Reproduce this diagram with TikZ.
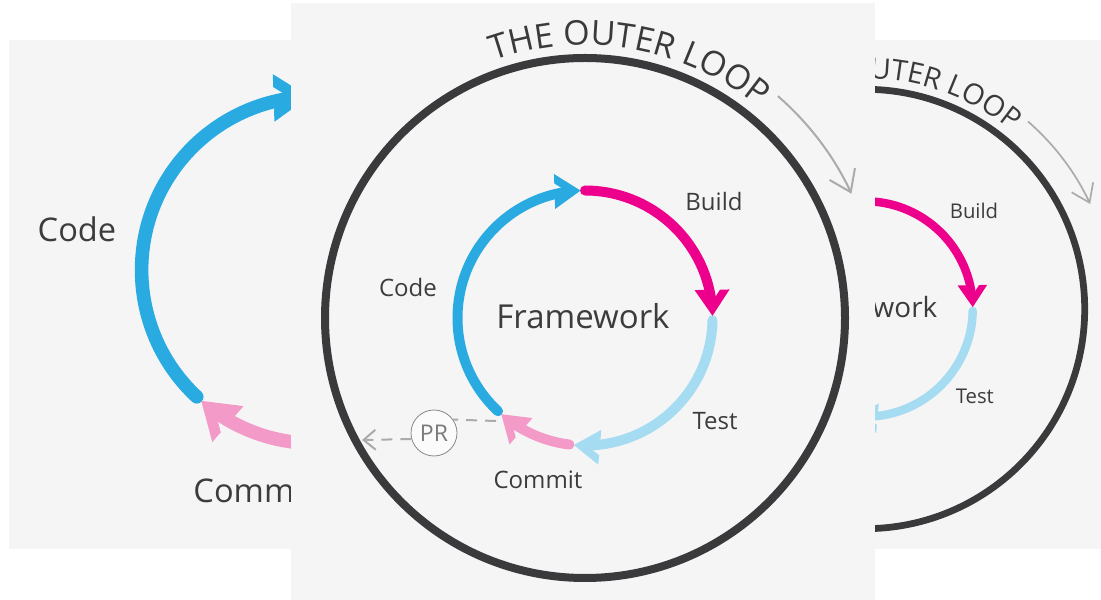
\documentclass[tikz,border=0pt]{standalone}
\usepackage{fontspec}
\setmainfont{Open Sans}
\usetikzlibrary{arrows.meta,decorations.text}
\definecolor{panelbg}{HTML}{F5F5F5}
\definecolor{codeblue}{HTML}{29ABE2}
\definecolor{buildmag}{HTML}{EC008C}
\definecolor{testblue}{HTML}{A6DCF2}
\definecolor{commitpink}{HTML}{F49AC8}
\definecolor{ringdark}{HTML}{3A3A3C}
\definecolor{labeltext}{HTML}{3C3C3C}
\definecolor{hintgray}{HTML}{ABABAB}
\definecolor{prgray}{HTML}{7A7A7A}
\tikzset{
  panel/.style={fill=panelbg, draw=none},
  seg/.style={line width=#1, line cap=round},
  lab/.style={text=labeltext, inner sep=0pt, anchor=center},
  hint/.style={draw=hintgray, line width=#1},
}
% chevron arrow head: #1 tip angle, #2 colour
\newcommand\chevronat[2]{%
  \fill[#2, shift={(#1:127.5)}, rotate=#1-90]
    (0,0) -- (-26,17.5) -- (-26,8) -- (-14,0) -- (-26,-8) -- (-26,-17.5) -- cycle;}
% the inner loop, #1 = line width
\newcommand\loopring[1]{%
  \draw[seg=#1, codeblue] (227:127.5) arc[start angle=227, end angle=98, radius=127.5];
  \draw[seg=#1, buildmag] (90:127.5) arc[start angle=90, end angle=7, radius=127.5];
  \draw[seg=#1, testblue] (-1:127.5) arc[start angle=-1, end angle=-89, radius=127.5];
  \draw[seg=#1, commitpink] (-97:127.5) arc[start angle=-97, end angle=-125, radius=127.5];
  \chevronat{92}{codeblue}
  \chevronat{1}{buildmag}
  \chevronat{-95}{testblue}
  \chevronat{-131}{commitpink}}
% outer ring with its title and hint arrow: #1 scale, #2 prefix
\newcommand\outerring[2]{%
  \pgfmathsetmacro\ofs{34*#1}%
  \draw[ringdark, line width=#1*8pt] (0,0) circle[radius=260];
  \path[decorate, decoration={text along path, text align=center, text color=ringdark,
      text={|\fontsize{\ofs}{\ofs}\selectfont|THE OUTER LOOP}}]
    (135:273) arc[start angle=135, end angle=25, radius=273];
  \coordinate (#2hintstart) at (49:294);
  \draw[hint=#1*2pt, -{Straight Barb[length=#1*20pt, width=#1*28pt]}]
    (#2hintstart) arc[start angle=49, end angle=25, radius=294];}
\begin{document}
\begin{tikzpicture}[x=1pt, y=1pt]
\useasboundingbox (0,0) rectangle (1101,600);
\fill[white] (0,0) rectangle (1101,600);
% ---------- left panel (zoomed inner loop) ----------
\fill[panel] (9,51) rectangle (291,560);
\begin{scope}
  \clip (9,51) rectangle (291,560);
  \begin{scope}[shift={(315,330)}, scale=1.36]
    \loopring{13.6pt}
    \node[lab, font=\fontsize{32.6}{36}\selectfont] (lcode) at (-175,30) {Code};
    \node[lab, font=\fontsize{32.6}{36}\selectfont] (lcommit) at (-45,-162) {Commit};
  \end{scope}
\end{scope}
% ---------- right panel (smaller copy) ----------
\fill[panel] (875,51) rectangle (1101,560);
\begin{scope}
  \clip (875,51) rectangle (1101,560);
  \begin{scope}[shift={(865,291)}, scale=0.845]
    \outerring{0.845}{r}
    \loopring{8.45pt}
    \node[lab, font=\fontsize{20.3}{24}\selectfont] (rbuild) at (129,116) {Build};
    \node[lab, font=\fontsize{20.3}{24}\selectfont] (rtest) at (130,-103) {Test};
    \node[lab, font=\fontsize{27.9}{32}\selectfont] (rframe) at (-1,2) {Framework};
  \end{scope}
\end{scope}
% ---------- centre panel ----------
\fill[panel] (291,0) rectangle (875,597);
\begin{scope}[shift={(585,282)}]
  \outerring{1}{c}
  \node[circle, draw=hintgray!80!black, line width=0.8pt, fill=white!60!panelbg,
        minimum size=46pt, inner sep=0pt, text=prgray,
        font=\fontsize{23}{23}\selectfont] (pr) at (-151,-115) {PR};
  \coordinate (prstart) at (-89,-103);
  \coordinate (prend) at (-223,-122);
  \draw[hint=2pt, dash pattern=on 11pt off 8pt] (prstart) -- (pr.35);
  \draw[hint=2pt, dash pattern=on 11pt off 8pt, -{Straight Barb[length=12pt, width=20pt]}]
    (pr.195) -- (prend);
  \loopring{10pt}
  \node[lab, font=\fontsize{24}{28}\selectfont] (build) at (129,116) {Build};
  \node[lab, font=\fontsize{24}{28}\selectfont] (code) at (-177,30) {Code};
  \node[lab, font=\fontsize{24}{28}\selectfont] (test) at (130,-103) {Test};
  \node[lab, font=\fontsize{24}{28}\selectfont] (commit) at (-47,-162) {Commit};
  \node[lab, font=\fontsize{33}{38}\selectfont] (frame) at (-2,2) {Framework};
\end{scope}
\end{tikzpicture}
\end{document}
